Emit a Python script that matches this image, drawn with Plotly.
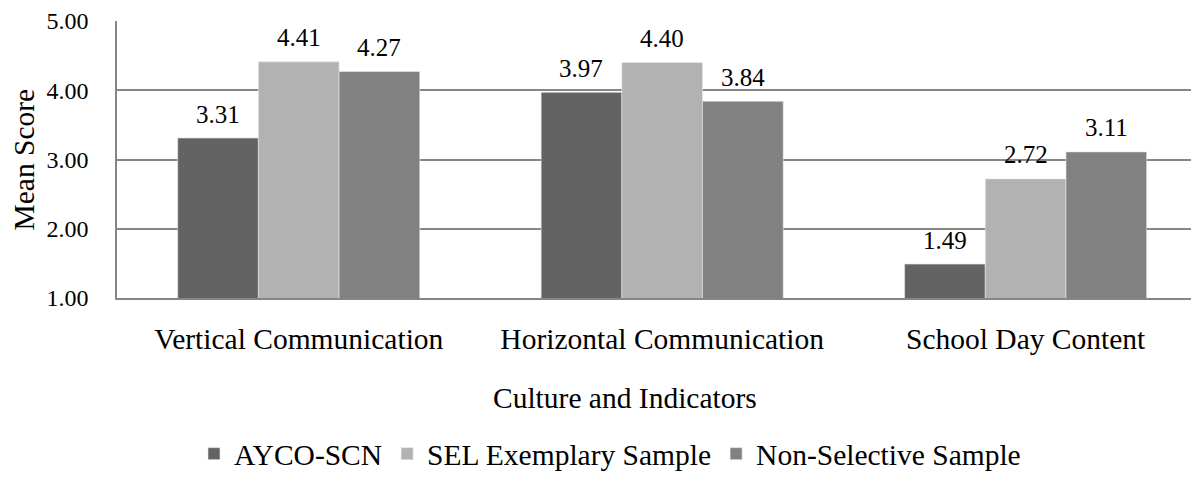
import plotly.graph_objects as go

categories = ["Vertical Communication", "Horizontal Communication", "School Day Content"]
series_names = ["AYCO-SCN", "SEL Exemplary Sample", "Non-Selective Sample"]
ayco = [3.31, 3.97, 1.49]
sel = [4.41, 4.40, 2.72]
nonsel = [4.27, 3.84, 3.11]
colors = ["#636363", "#b2b2b2", "#818181"]
y_ticks = [1, 2, 3, 4, 5]

FONT = "Liberation Serif"
OFF = 8  # page body margin
W, H = 1199 - OFF, 480 - OFF
ML, MR, MT = 117 - OFF, 0, 17 - OFF
PLOT_H = 285
MB = H - MT - PLOT_H
BARGAP = 0.334
XR = [-0.5, 2.477]

fig = go.Figure()
all_series = [ayco, sel, nonsel]
for name, vals, c in zip(series_names, all_series, colors):
    fig.add_trace(go.Bar(
        x=categories, y=vals, name=name,
        marker=dict(color=c, line=dict(color="#e8e8e8", width=0.6)),
    ))

plot_w = W - ML - MR
cat_px = plot_w / (XR[1] - XR[0])
bar_px = (1 - BARGAP) * cat_px / 3
for i, vals in enumerate(all_series):
    for cat, v in zip(categories, vals):
        fig.add_annotation(
            x=cat, y=v, text=f"{v:.2f}", showarrow=False,
            xshift=(i - 1) * bar_px, yshift=24, yanchor="middle",
            font=dict(family=FONT, size=25, color="#000000"),
        )

fig.add_annotation(
    xref="paper", yref="paper", x=0, y=0.5, xshift=-94, textangle=-90,
    text="Mean Score", showarrow=False, xanchor="center", yanchor="middle",
    font=dict(family=FONT, size=29.5, color="#000000"),
)
fig.add_annotation(
    xref="paper", yref="paper", x=(625 - 117) / plot_w, y=0, yshift=-100,
    text="Culture and Indicators", showarrow=False, xanchor="center", yanchor="middle",
    font=dict(family=FONT, size=29.5, color="#000000"),
)

fig.update_layout(
    width=W, height=H,
    margin=dict(l=ML, r=MR, t=MT, b=MB, pad=0),
    paper_bgcolor="white", plot_bgcolor="white",
    barmode="group", bargap=BARGAP, bargroupgap=0,
    font=dict(family=FONT, color="#000000"),
    showlegend=True,
    legend=dict(
        orientation="h", x=(610 - 117) / plot_w, xanchor="center",
        y=-(463 - 302) / PLOT_H, yanchor="middle",
        font=dict(family=FONT, size=29.5, color="#000000"),
        itemwidth=30, tracegroupgap=0,
    ),
)
fig.update_xaxes(
    range=XR, showline=True, linecolor="#868686", linewidth=1.5,
    showgrid=False, ticks="", ticklabelstandoff=14,
    tickfont=dict(family=FONT, size=29.5, color="#000000"),
)
fig.update_yaxes(
    range=[1, 5], tickvals=y_ticks, tickformat=".2f",
    showgrid=True, gridcolor="#868686", gridwidth=1.5,
    showline=True, linecolor="#868686", linewidth=1.5,
    zeroline=False, ticks="", ticklabelstandoff=22,
    ticklabeloverflow="allow",
    tickfont=dict(family=FONT, size=24, color="#000000"),
)

fig.write_html("out.html")
